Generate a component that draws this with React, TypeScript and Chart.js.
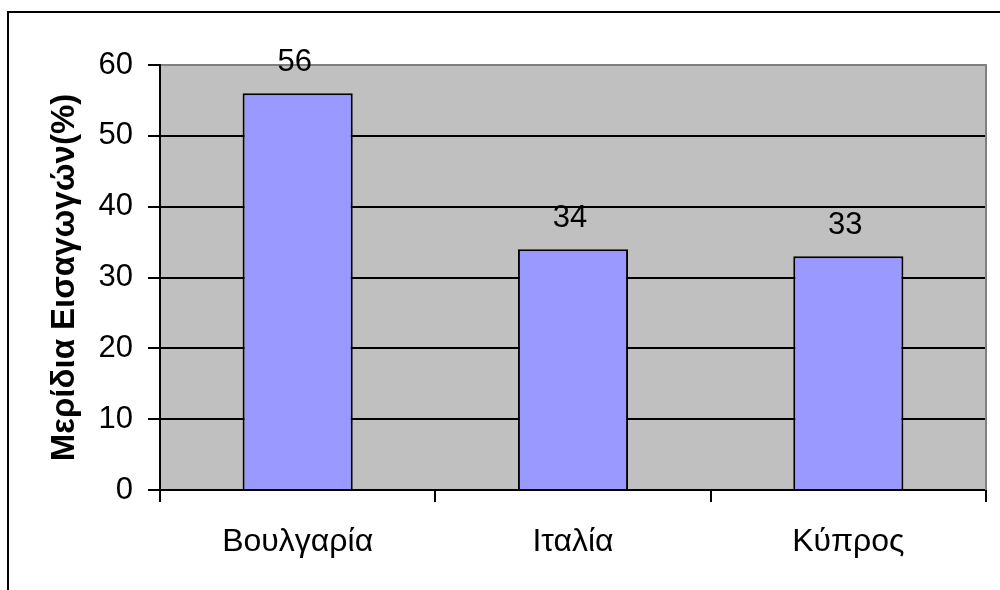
import React, { useEffect, useRef } from "react";
import { Chart, registerables } from "chart.js";

Chart.register(...registerables);

const categories = ["Βουλγαρία", "Ιταλία", "Κύπρος"];
const shares = [56, 34, 33];
const yTitle = "Μερίδια Εισαγωγών(%)";
const yMin = 0;
const yMax = 60;
const yStep = 10;

const FONT = "'Liberation Sans', Arial, sans-serif";

const framePlugin = {
  id: "frame",
  beforeDraw(chart: any) {
    const { ctx, chartArea } = chart;
    ctx.save();
    ctx.fillStyle = "#ffffff";
    ctx.fillRect(0, 0, chart.width, chart.height);
    ctx.fillStyle = "#c0c0c0";
    ctx.fillRect(chartArea.left, chartArea.top, chartArea.right - chartArea.left, chartArea.bottom - chartArea.top);
    ctx.restore();
  },
  afterDraw(chart: any) {
    const { ctx, chartArea } = chart;
    ctx.save();
    ctx.strokeStyle = "#808080";
    ctx.lineWidth = 2;
    ctx.beginPath();
    ctx.moveTo(chartArea.right, chartArea.top - 1);
    ctx.lineTo(chartArea.right, chartArea.bottom);
    ctx.stroke();
    ctx.strokeStyle = "#000000";
    ctx.beginPath();
    ctx.moveTo(8, chart.height + 10);
    ctx.lineTo(8, 12);
    ctx.lineTo(chart.width + 10, 12);
    ctx.stroke();
    ctx.restore();
  },
};

const labelPlugin = {
  id: "valueLabels",
  afterDatasetsDraw(chart: any) {
    const { ctx } = chart;
    const meta = chart.getDatasetMeta(0);
    ctx.save();
    ctx.font = `31px ${FONT}`;
    ctx.fillStyle = "#000000";
    ctx.textAlign = "center";
    ctx.textBaseline = "alphabetic";
    meta.data.forEach((bar: any, i: number) => {
      ctx.fillText(String(shares[i]), bar.x - 3, bar.y - 22);
    });
    ctx.restore();
  },
};

export default function App() {
  const ref = useRef<HTMLCanvasElement>(null);
  useEffect(() => {
    if (!ref.current) return;
    const chart = new Chart(ref.current, {
      type: "bar",
      data: {
        labels: categories,
        datasets: [
          {
            data: shares,
            backgroundColor: "#9999ff",
            borderColor: "#000000",
            borderWidth: 2,
            barPercentage: 0.4,
            categoryPercentage: 1,
          },
        ],
      },
      options: {
        responsive: false,
        animation: false,
        layout: { padding: { left: 0, top: 65, right: 14, bottom: 0 } },
        plugins: { legend: { display: false }, tooltip: { enabled: false } },
        scales: {
          x: {
            offset: true,
            afterFit: (s: any) => {
              s.height = 100;
            },
            grid: {
              offset: true,
              drawOnChartArea: false,
              tickLength: 12,
              color: "#000000",
              lineWidth: 2,
            },
            border: { color: "#000000", width: 2 },
            ticks: {
              color: "#000000",
              font: { family: FONT, size: 32 },
              padding: 21,
              maxRotation: 0,
            },
          },
          y: {
            min: yMin,
            max: yMax,
            afterFit: (s: any) => {
              s.width = 160;
            },
            ticks: {
              stepSize: yStep,
              color: "#000000",
              font: { family: FONT, size: 31 },
              padding: 15,
            },
            grid: {
              tickLength: 12,
              color: (c: any) => (c.tick && c.tick.value === yMax ? "#808080" : "#000000"),
              tickColor: "#000000",
              lineWidth: 2,
              tickWidth: 2,
            },
            border: { color: "#000000", width: 2 },
            title: {
              display: true,
              text: yTitle,
              color: "#000000",
              font: { family: FONT, size: 33, weight: "bold" },
              padding: { top: 45, bottom: 0 },
            },
          },
        },
      },
      plugins: [framePlugin, labelPlugin],
    });
    return () => chart.destroy();
  }, []);
  return (
    <div style={{ position: "absolute", left: 0, top: 0, width: 1000, height: 590 }}>
      <canvas ref={ref} width={1000} height={590} />
    </div>
  );
}
